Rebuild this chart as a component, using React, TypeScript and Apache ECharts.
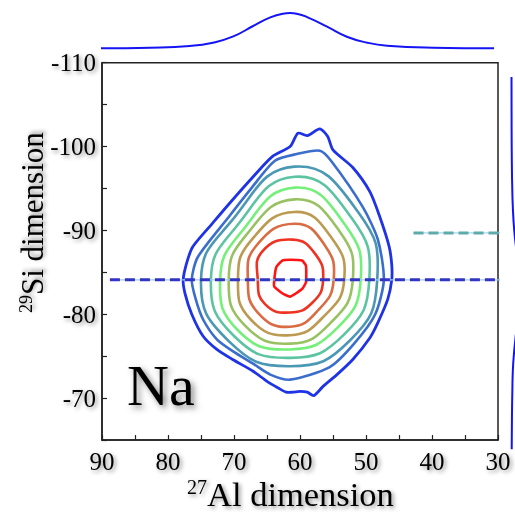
import React, { useEffect, useRef } from 'react';
import * as echarts from 'echarts';

// ---- Data ----
// Contours: [27Al (ppm), 29Si (ppm)] points, outermost (0) to innermost (9)
const contour0 = [
  [60.3, -101.6], [58.9, -101.3], [57.0, -102.1], [55.8, -101.2], [55.0, -99.6], [52.0, -97.5],
  [49.4, -94.6], [47.9, -91.6], [46.5, -88.1], [46.1, -85.9], [46.1, -84.1], [46.7, -81.8],
  [48.2, -79.0], [49.4, -77.2], [52.0, -74.6], [54.4, -72.8], [56.5, -71.4], [57.9, -70.3],
  [58.9, -70.7], [60.0, -70.8], [61.1, -70.7], [62.1, -70.7], [63.3, -71.2], [65.0, -72.0],
  [67.1, -73.2], [70.2, -74.6], [72.6, -75.8], [74.7, -77.4], [76.4, -80.0], [77.4, -82.4],
  [77.7, -84.1], [77.1, -86.3], [76.2, -88.1], [73.2, -90.9], [70.6, -93.3], [67.1, -96.4],
  [64.2, -98.8], [61.5, -100.0],
];
const contour1 = [
  [63.8, -98.3], [60.5, -99.1], [57.0, -99.5], [55.3, -98.3], [50.5, -92.8], [48.2, -88.9],
  [47.3, -84.1], [48.6, -80.0], [51.8, -76.5], [55.5, -73.7], [61.5, -72.2], [64.5, -72.8],
  [67.1, -74.1], [70.2, -75.6], [72.6, -77.0], [74.7, -79.4], [75.8, -81.8], [76.4, -84.1],
  [75.5, -86.8], [70.9, -91.5], [67.3, -95.1],
];
const contour2 = [[60.8, -97.6], [51.2, -92.2], [48.3, -84.1], [52.4, -76.9], [61.5, -73.8], [70.8, -76.8], [75.0, -84.1], [70.4, -91.1]];
const contour3 = [[60.8, -96.4], [52.2, -91.5], [49.5, -84.1], [53.3, -77.6], [61.5, -74.8], [70.0, -77.4], [73.5, -84.1], [69.6, -90.5]];
const contour4 = [[60.8, -95.1], [53.2, -90.7], [50.8, -84.1], [54.3, -78.4], [61.5, -75.8], [69.3, -78.0], [72.1, -84.1], [68.8, -89.9]];
const contour5 = [[60.8, -93.7], [54.1, -90.0], [52.0, -84.1], [55.2, -79.1], [61.5, -76.5], [68.4, -78.7], [70.8, -84.1], [68.2, -89.4]];
const contour6 = [[60.8, -92.2], [55.2, -89.1], [53.3, -84.1], [56.2, -79.9], [61.5, -77.5], [67.5, -79.4], [69.4, -84.1], [67.4, -88.8]];
const contour7 = [[60.8, -90.8], [56.3, -88.3], [54.9, -84.1], [57.1, -80.6], [61.5, -78.5], [66.4, -80.2], [67.9, -84.1], [66.6, -88.2]];
const contour8 = [[61.1, -88.9], [57.7, -87.2], [56.5, -84.1], [58.1, -81.4], [61.5, -80.2], [65.3, -81.2], [66.4, -84.1], [65.7, -87.5]];
const contour9 = [
  [61.5, -86.5], [59.7, -86.4], [59.1, -85.8], [59.1, -83.8], [59.7, -83.0], [61.5, -82.1],
  [62.7, -82.5], [63.9, -83.3], [63.9, -84.1], [63.6, -85.6], [62.7, -86.4],
];
const contours = [contour0, contour1, contour2, contour3, contour4, contour5, contour6, contour7, contour8, contour9];
const contourColors = ['#1f33e6', '#3b6dcc', '#4b98b4', '#5cc4a2', '#74f07a', '#98c262', '#bc9a52', '#d96c42', '#ee3322', '#ff1414'];

// Top projection (27Al dimension)
const topProjAl = [90.3, 82.7, 76.7, 73.2, 70.2, 67.1, 64.5, 62.6, 61.5, 60.5, 58.5, 55.9, 52.9, 49.8, 46.8, 39.8, 30.6];
const topProjInt = [0, 0.6, 2.3, 5.6, 11.6, 22.3, 31, 34.6, 35.2, 34.6, 30, 21.6, 11.6, 5.6, 2.6, 0.6, 0];

// Right projection (29Si dimension)
const rightProjSi = [-108.3, -104, -100, -97, -95.5, -93, -90, -87, -84, -81, -78, -75, -73, -71, -67.8, -63.9];
const rightProjInt = [0, 0.3, 0.8, 1.8, 2.7, 5, 11, 22, 33, 30, 19, 9, 5, 3.5, 1.8, 0.8];

// Dashed guide lines
const blueLineSi = -84.1;
const blueLineAl = [88.8, 20];
const tealLineSi = -89.7;
const tealLineAl = [42.8, 20];

const SERIF = '"Liberation Serif", "Times New Roman", serif';
const shadow = {
  textShadowColor: 'rgba(0,0,0,0.45)',
  textShadowBlur: 4,
  textShadowOffsetX: 2,
  textShadowOffsetY: 2,
};

export default function App() {
  const ref = useRef<HTMLDivElement>(null);
  useEffect(() => {
    if (!ref.current) return;
    const chart = echarts.init(ref.current, undefined, { renderer: 'svg' });
    const labelFmt = (v: number) => (Math.round(v) % 10 === 0 ? String(v) : '');
    const axisLabel = {
      formatter: labelFmt,
      color: '#000',
      fontSize: 25,
      fontFamily: SERIF,
      showMinLabel: true,
      showMaxLabel: true,
      ...shadow,
    };
    const dashed = (al: number[], si: number, dark: string, light: string) => [
      {
        type: 'line', xAxisIndex: 0, yAxisIndex: 0, clip: false, symbol: 'none', silent: true,
        data: al.map((a) => [a, si]),
        lineStyle: { color: light, width: 1.3 },
        z: 5,
      },
      {
        type: 'line', xAxisIndex: 0, yAxisIndex: 0, clip: false, symbol: 'none', silent: true,
        data: al.map((a) => [a, si]),
        lineStyle: { color: dark, width: 3, type: [10, 5] },
        z: 6,
      },
    ];
    const option: any = {
      animation: false,
      backgroundColor: '#ffffff',
      grid: [
        { left: 102, top: 62.7, width: 396, height: 377.3, show: true, borderColor: '#222', borderWidth: 1.5, backgroundColor: 'transparent' },
        { left: 102, top: 13.3, width: 396, height: 35 },
        { left: 511.5, top: 62.7, width: 35, height: 377.3 },
      ],
      xAxis: [
        {
          gridIndex: 0, type: 'value', min: 30, max: 90, interval: 5, inverse: true,
          axisLine: { show: true, onZero: false, lineStyle: { color: '#222', width: 1.5 } },
          axisTick: { show: true, inside: true, length: 5, lineStyle: { color: '#222', width: 1.2 } },
          axisLabel: { ...axisLabel, margin: 9 },
          splitLine: { show: false },
        },
        { gridIndex: 1, type: 'value', min: 30, max: 90, inverse: true, show: false },
        { gridIndex: 2, type: 'value', min: 0, max: 35, show: false },
      ],
      yAxis: [
        {
          gridIndex: 0, type: 'value', min: -110, max: -65, interval: 5, inverse: true,
          axisLine: { show: true, onZero: false, lineStyle: { color: '#222', width: 1.5 } },
          axisTick: { show: true, inside: true, length: 5, lineStyle: { color: '#222', width: 1.2 } },
          axisLabel: { ...axisLabel, margin: 6 },
          splitLine: { show: false },
        },
        { gridIndex: 1, type: 'value', min: 0, max: 35, show: false },
        { gridIndex: 2, type: 'value', min: -110, max: -65, inverse: true, show: false },
      ],
      graphic: [
        {
          type: 'text', x: 187, y: 494, z: 10,
          style: {
            text: '{sup|27}{n|Al dimension}',
            fill: '#000',
            align: 'left',
            verticalAlign: 'middle',
            rich: {
              sup: { fontSize: 20, fontFamily: SERIF, verticalAlign: 'top', fill: '#000', ...shadow },
              n: { fontSize: 34.5, fontFamily: SERIF, fill: '#000', ...shadow },
            },
          },
        },
        {
          type: 'text', x: 32, y: 313, rotation: Math.PI / 2, z: 10,
          style: {
            text: '{sup|29}{n|Si dimension}',
            fill: '#000',
            align: 'left',
            verticalAlign: 'middle',
            rich: {
              sup: { fontSize: 18, fontFamily: SERIF, verticalAlign: 'top', fill: '#000', ...shadow },
              n: { fontSize: 31, fontFamily: SERIF, fill: '#000', ...shadow },
            },
          },
        },
        {
          type: 'text', x: 127, y: 385, z: 10,
          style: {
            text: 'Na', fill: '#000', fontSize: 58, fontFamily: SERIF,
            align: 'left', verticalAlign: 'middle',
            textShadowColor: 'rgba(0,0,0,0.5)', textShadowBlur: 6, textShadowOffsetX: 3, textShadowOffsetY: 3,
          },
        },
      ],
      series: [
        {
          type: 'custom',
          coordinateSystem: 'cartesian2d',
          xAxisIndex: 0,
          yAxisIndex: 0,
          silent: true,
          z: 3,
          data: contours.map((_, i) => [i]),
          renderItem: (params: any, api: any) => {
            const idx = params.dataIndex;
            const pts = contours[idx].map((p) => api.coord(p));
            return {
              type: 'polygon',
              shape: { points: pts, smooth: idx === 0 || idx === 1 ? 0.25 : idx === 9 ? 0.15 : 0.5 },
              style: { fill: 'none', stroke: contourColors[idx], lineWidth: idx === 0 ? 2.8 : 2.6 },
            };
          },
        },
        ...dashed(blueLineAl, blueLineSi, '#3434c4', '#9ccff0'),
        ...dashed(tealLineAl, tealLineSi, '#5faaaa', '#a8d4e8'),
        {
          type: 'line', xAxisIndex: 1, yAxisIndex: 1, clip: false, symbol: 'none', smooth: true, silent: true,
          data: topProjAl.map((a, i) => [a, topProjInt[i]]),
          lineStyle: { color: '#1414f5', width: 2 },
        },
        {
          type: 'line', xAxisIndex: 2, yAxisIndex: 2, clip: false, symbol: 'none', smooth: true, silent: true,
          data: rightProjSi.map((s, i) => [rightProjInt[i], s]),
          lineStyle: { color: '#1414f5', width: 2 },
        },
      ],
    };
    chart.setOption(option);
    return () => chart.dispose();
  }, []);
  return <div ref={ref} style={{ position: 'fixed', left: 0, top: 0, width: 515, height: 512 }} />;
}
